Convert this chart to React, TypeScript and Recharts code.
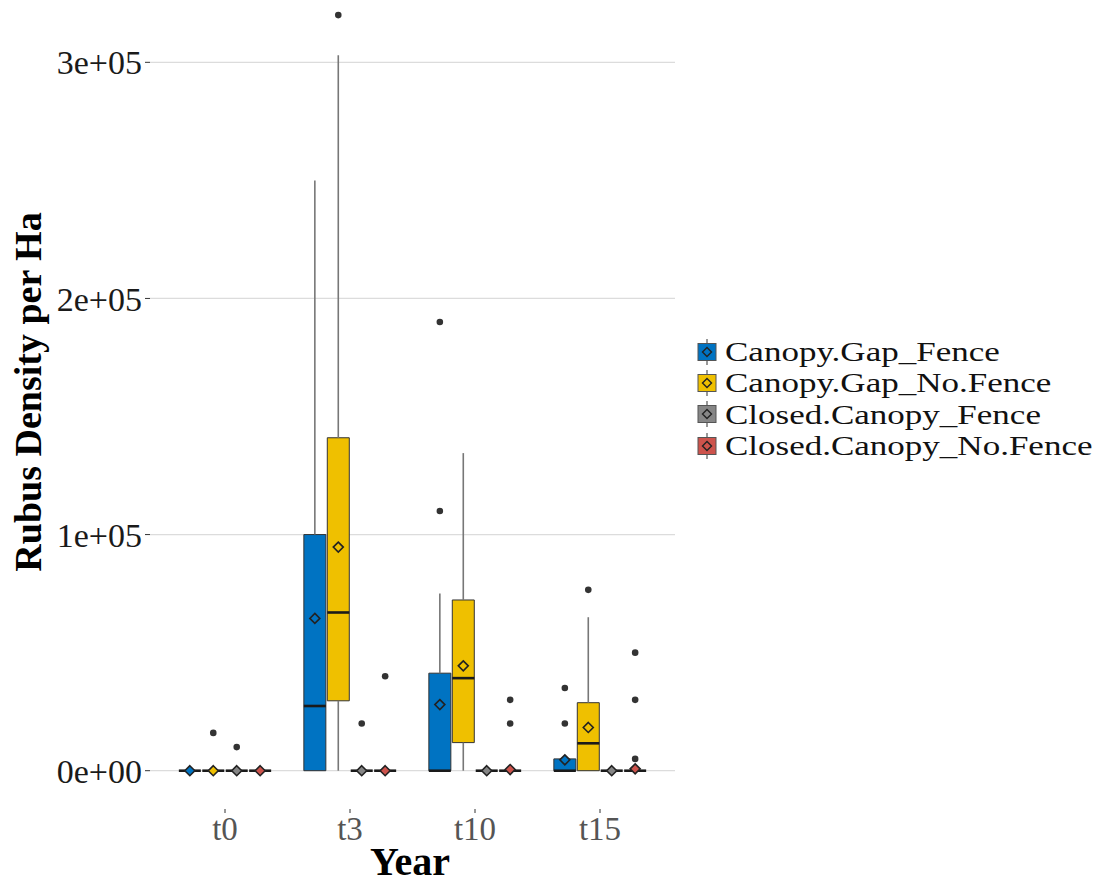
import React from "react";
import {
  ScatterChart,
  Scatter,
  XAxis,
  YAxis,
  CartesianGrid,
  ReferenceArea,
  ReferenceLine,
  Legend,
  Label,
} from "recharts";

const SERIF = '"Liberation Serif", "Times New Roman", serif';

const years = ["t0", "t3", "t10", "t15"];
const groups = [
  "Canopy.Gap_Fence",
  "Canopy.Gap_No.Fence",
  "Closed.Canopy_Fence",
  "Closed.Canopy_No.Fence",
];
const groupColors = ["#0073C2", "#EFC000", "#868686", "#CD534C"];

const yTicks = [0, 100000, 200000, 300000];
const yTickLabels = ["0e+00", "1e+05", "2e+05", "3e+05"];

// per year: [lower whisker, Q1, median, Q3, upper whisker]
const gapFenceStats = [
  [0, 0, 0, 0, 0],
  [0, 0, 27400, 100000, 250000],
  [0, 0, 0, 41300, 75000],
  [0, 0, 0, 5000, 5000],
];
const gapFenceMeans = [0, 64500, 28000, 4600];
const gapFenceOutliers = [[], [], [110000, 190000], [20000, 35000]];

const gapNoFenceStats = [
  [0, 0, 0, 0, 0],
  [0, 29600, 67000, 141000, 303000],
  [0, 11900, 39200, 72300, 134500],
  [0, 0, 11600, 28800, 65000],
];
const gapNoFenceMeans = [0, 94700, 44400, 18300];
const gapNoFenceOutliers = [[16000], [320000], [], [76600]];

const closedFenceStats = [
  [0, 0, 0, 0, 0],
  [0, 0, 0, 0, 0],
  [0, 0, 0, 0, 0],
  [0, 0, 0, 0, 0],
];
const closedFenceMeans = [0, 0, 0, 0];
const closedFenceOutliers = [[10000], [20000], [], []];

const closedNoFenceStats = [
  [0, 0, 0, 0, 0],
  [0, 0, 0, 0, 0],
  [0, 0, 0, 0, 0],
  [0, 0, 0, 0, 0],
];
const closedNoFenceMeans = [0, 0, 500, 800];
const closedNoFenceOutliers = [[], [40000], [20000, 30000], [5000, 30000, 50000]];

const allStats = [gapFenceStats, gapNoFenceStats, closedFenceStats, closedNoFenceStats];
const allMeans = [gapFenceMeans, gapNoFenceMeans, closedFenceMeans, closedNoFenceMeans];
const allOutliers = [
  gapFenceOutliers,
  gapNoFenceOutliers,
  closedFenceOutliers,
  closedNoFenceOutliers,
];

// dodge spacing and half box width, in x-axis units (one unit per year)
const DODGE = 0.1875;
const HALF = 0.088;
const xPos = (yi: number, gi: number) => yi + 1 + (gi - 1.5) * DODGE;

type Box = { key: string; x: number; gi: number; s: number[] };
const boxes: Box[] = [];
allStats.forEach((stats, gi) =>
  stats.forEach((s, yi) => boxes.push({ key: `${gi}-${yi}`, x: xPos(yi, gi), gi, s }))
);

const meanData = allMeans.map((means, gi) =>
  means.map((m, yi) => ({ x: xPos(yi, gi), y: m }))
);

const outlierData: { x: number; y: number }[] = [];
allOutliers.forEach((byYear, gi) =>
  byYear.forEach((vals, yi) => vals.forEach((v) => outlierData.push({ x: xPos(yi, gi), y: v })))
);

const Diamond = (props: any) => {
  const { cx, cy, fill } = props;
  const h = 5;
  return (
    <polygon
      points={`${cx},${cy - h} ${cx + h},${cy} ${cx},${cy + h} ${cx - h},${cy}`}
      fill={fill}
      stroke="#222"
      strokeWidth={1.6}
    />
  );
};

const Dot = (props: any) => <circle cx={props.cx} cy={props.cy} r={3.3} fill="#333" />;

const LegendContent = () => (
  <div style={{ fontFamily: SERIF, fontSize: 28, color: "#111" }}>
    {groups.map((g, i) => (
      <div
        key={g}
        style={{ display: "flex", alignItems: "center", height: 31.3, whiteSpace: "nowrap" }}
      >
        <svg width={22} height={26} style={{ marginRight: 7, flex: "none" }}>
          <line x1={11} x2={11} y1={0} y2={26} stroke="#555" strokeWidth={1.2} />
          <rect x={2} y={4.5} width={18} height={17} fill={groupColors[i]} stroke="#555" />
          <polygon
            points="11,8.5 15.5,13 11,17.5 6.5,13"
            fill={groupColors[i]}
            stroke="#222"
            strokeWidth={1.4}
          />
        </svg>
        <span
          style={{
            lineHeight: "31px",
            display: "inline-block",
            transform: "scaleX(1.25)",
            transformOrigin: "left center",
          }}
        >
          {g}
        </span>
      </div>
    ))}
  </div>
);

const YTitle = () => (
  <text
    x={28}
    y={392}
    transform="rotate(-90, 28, 392)"
    textAnchor="middle"
    dominantBaseline="central"
    fontFamily={SERIF}
    fontWeight="bold"
    fontSize={38}
    fill="#000"
  >
    Rubus Density per Ha
  </text>
);

const XTitle = () => (
  <text
    x={410}
    y={875}
    textAnchor="middle"
    fontFamily={SERIF}
    fontWeight="bold"
    fontSize={40}
    fill="#000"
  >
    Year
  </text>
);

export default function App() {
  return (
    <div style={{ position: "absolute", left: 0, top: 0, background: "#fff" }}>
      <ScatterChart
        width={1110}
        height={888}
        margin={{ top: 0, right: 435, bottom: 0, left: 0 }}
      >
        <CartesianGrid
          vertical={false}
          horizontalValues={yTicks}
          stroke="#dcdcdc"
          strokeWidth={1.3}
        />
        <XAxis
          type="number"
          dataKey="x"
          domain={[0.4, 4.6]}
          ticks={[1, 2, 3, 4]}
          tickFormatter={(v: number) => years[v - 1]}
          allowDataOverflow
          height={79}
          axisLine={false}
          tickSize={4}
          tickMargin={4}
          tickLine={{ stroke: "#333" }}
          tick={{ fontSize: 33, fill: "#555", fontFamily: SERIF }}
        >
          <Label content={<XTitle />} />
        </XAxis>
        <YAxis
          type="number"
          dataKey="y"
          domain={[-16220, 326390]}
          ticks={yTicks}
          tickFormatter={(v: number) => yTickLabels[yTicks.indexOf(v)]}
          allowDataOverflow
          width={150}
          axisLine={false}
          tickSize={5}
          tickMargin={3}
          tickLine={{ stroke: "#333" }}
          tick={{ fontSize: 34, fill: "#1a1a1a", fontFamily: SERIF }}
        >
          <Label content={<YTitle />} />
        </YAxis>

        {/* whiskers */}
        {boxes.map((b) =>
          b.s[4] > b.s[3] ? (
            <ReferenceLine
              key={`wu-${b.key}`}
              segment={[
                { x: b.x, y: b.s[3] },
                { x: b.x, y: b.s[4] },
              ]}
              stroke="#777"
              strokeWidth={1.6}
            />
          ) : null
        )}
        {boxes.map((b) =>
          b.s[1] > b.s[0] ? (
            <ReferenceLine
              key={`wl-${b.key}`}
              segment={[
                { x: b.x, y: b.s[0] },
                { x: b.x, y: b.s[1] },
              ]}
              stroke="#777"
              strokeWidth={1.6}
            />
          ) : null
        )}

        {/* boxes */}
        {boxes.map((b) => (
          <ReferenceArea
            key={`box-${b.key}`}
            x1={b.x - HALF}
            x2={b.x + HALF}
            y1={b.s[1]}
            y2={b.s[3]}
            fill={groupColors[b.gi]}
            fillOpacity={1}
            stroke="#333"
            strokeWidth={1}
          />
        ))}

        {/* medians */}
        {boxes.map((b) => (
          <ReferenceLine
            key={`med-${b.key}`}
            segment={[
              { x: b.x - HALF, y: b.s[2] },
              { x: b.x + HALF, y: b.s[2] },
            ]}
            stroke="#1a1a1a"
            strokeWidth={2.6}
          />
        ))}

        <Scatter data={outlierData} shape={<Dot />} isAnimationActive={false} />
        {meanData.map((d, gi) => (
          <Scatter
            key={groups[gi]}
            name={groups[gi]}
            data={d}
            fill={groupColors[gi]}
            shape={<Diamond />}
            isAnimationActive={false}
          />
        ))}

        <Legend
          layout="vertical"
          align="center"
          verticalAlign="middle"
          content={<LegendContent />}
          wrapperStyle={{ left: 696, top: 336, width: "auto" }}
        />
      </ScatterChart>
    </div>
  );
}
